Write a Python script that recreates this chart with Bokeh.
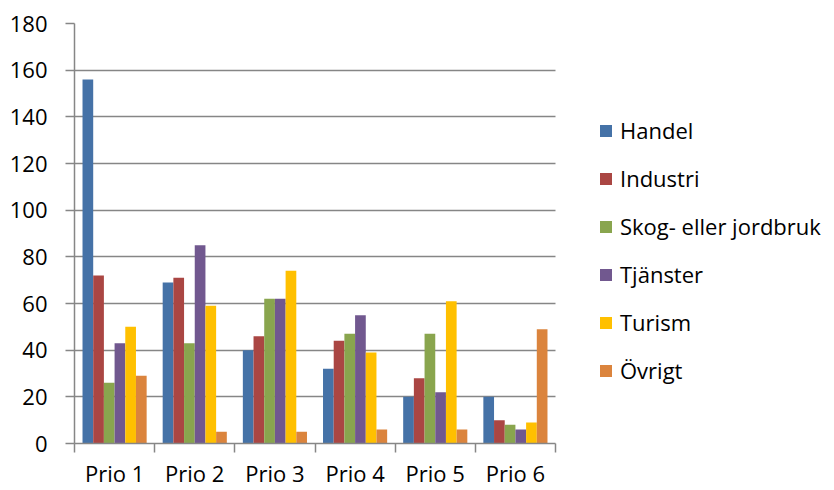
from bokeh.plotting import figure
from bokeh.models import ColumnDataSource, FixedTicker, Legend, LegendItem
from bokeh.transform import dodge
from bokeh.embed import file_html
from bokeh.resources import INLINE

categories = ["Prio 1", "Prio 2", "Prio 3", "Prio 4", "Prio 5", "Prio 6"]
series = ["Handel", "Industri", "Skog- eller jordbruk", "Tjänster", "Turism", "Övrigt"]
handel = [156, 69, 40, 32, 20, 20]
industri = [72, 71, 46, 44, 28, 10]
skog = [26, 43, 62, 47, 47, 8]
tjanster = [43, 85, 62, 55, 22, 6]
turism = [50, 59, 74, 39, 61, 9]
ovrigt = [29, 5, 5, 6, 6, 49]
colors = ["#4572A7", "#AA4643", "#89A54E", "#71588F", "#FFC000", "#DB843D"]
y_ticks = [0, 20, 40, 60, 80, 100, 120, 140, 160, 180]

values = [handel, industri, skog, tjanster, turism, ovrigt]
n_cat = len(categories)
x_pos = [i + 0.5 for i in range(n_cat)]
data = {"x": x_pos}
for j, v in enumerate(values):
    data[f"s{j}"] = v
src = ColumnDataSource(data)

FONT = "Open Sans"
GRAY = "#868686"

W, H = 834, 490
LEFT, TOP, BOTTOM = 74, 23, 44
PLOT_RIGHT = 555  # where the category axis ends (px)
frame_w = W - LEFT
x_end = n_cat * frame_w / (PLOT_RIGHT - LEFT)

p = figure(width=W, height=H, x_range=(0, x_end), y_range=(0, 180),
           output_backend="svg", toolbar_location=None,
           min_border_left=LEFT, min_border_right=0, min_border_top=TOP,
           min_border_bottom=BOTTOM)
p.outline_line_color = None
p.background_fill_color = "white"

group = 0.8
bw = group / len(series)
renderers = []
for j, name in enumerate(series):
    off = -group / 2 + bw * (j + 0.5)
    r = p.vbar(x=dodge("x", off), top=f"s{j}", width=bw, source=src,
               fill_color=colors[j], line_color=None)
    renderers.append(r)

p.xgrid.visible = False
p.ygrid.grid_line_color = GRAY
p.ygrid.grid_line_width = 1.5
p.ygrid.ticker = FixedTicker(ticks=y_ticks)
p.ygrid.cross_bounds = (0, n_cat)

p.yaxis.ticker = FixedTicker(ticks=y_ticks)
p.yaxis.axis_line_color = GRAY
p.yaxis.axis_line_width = 1.5
p.yaxis.major_tick_line_color = GRAY
p.yaxis.major_tick_line_width = 1.5
p.yaxis.major_tick_out = 9
p.yaxis.major_tick_in = 0
p.yaxis.minor_tick_line_color = None
p.yaxis.major_label_standoff = 18
p.yaxis.major_label_text_font = FONT
p.yaxis.major_label_text_font_size = "22px"
p.yaxis.major_label_text_color = "black"

p.xaxis.bounds = (0, n_cat)
p.xaxis.ticker = FixedTicker(ticks=x_pos, minor_ticks=list(range(n_cat + 1)))
p.xaxis.major_label_overrides = {x: c for x, c in zip(x_pos, categories)}
p.xaxis.axis_line_color = GRAY
p.xaxis.axis_line_width = 1.5
p.xaxis.major_tick_line_color = None
p.xaxis.minor_tick_line_color = GRAY
p.xaxis.minor_tick_line_width = 1.5
p.xaxis.minor_tick_out = 9
p.xaxis.minor_tick_in = 0
p.xaxis.major_label_standoff = 5
p.xaxis.major_label_text_font = FONT
p.xaxis.major_label_text_font_size = "22px"
p.xaxis.major_label_text_color = "black"

items = [LegendItem(label=name, renderers=[r]) for name, r in zip(series, renderers)]
legend = Legend(items=items, location=(524, 58), glyph_width=15, glyph_height=15,
                label_standoff=7, label_text_font=FONT, label_text_font_size="22px",
                label_text_color="black", spacing=18, padding=0, margin=0,
                border_line_color=None, background_fill_alpha=0)
p.add_layout(legend, "center")

open("out.html", "w").write(file_html(p, INLINE))
